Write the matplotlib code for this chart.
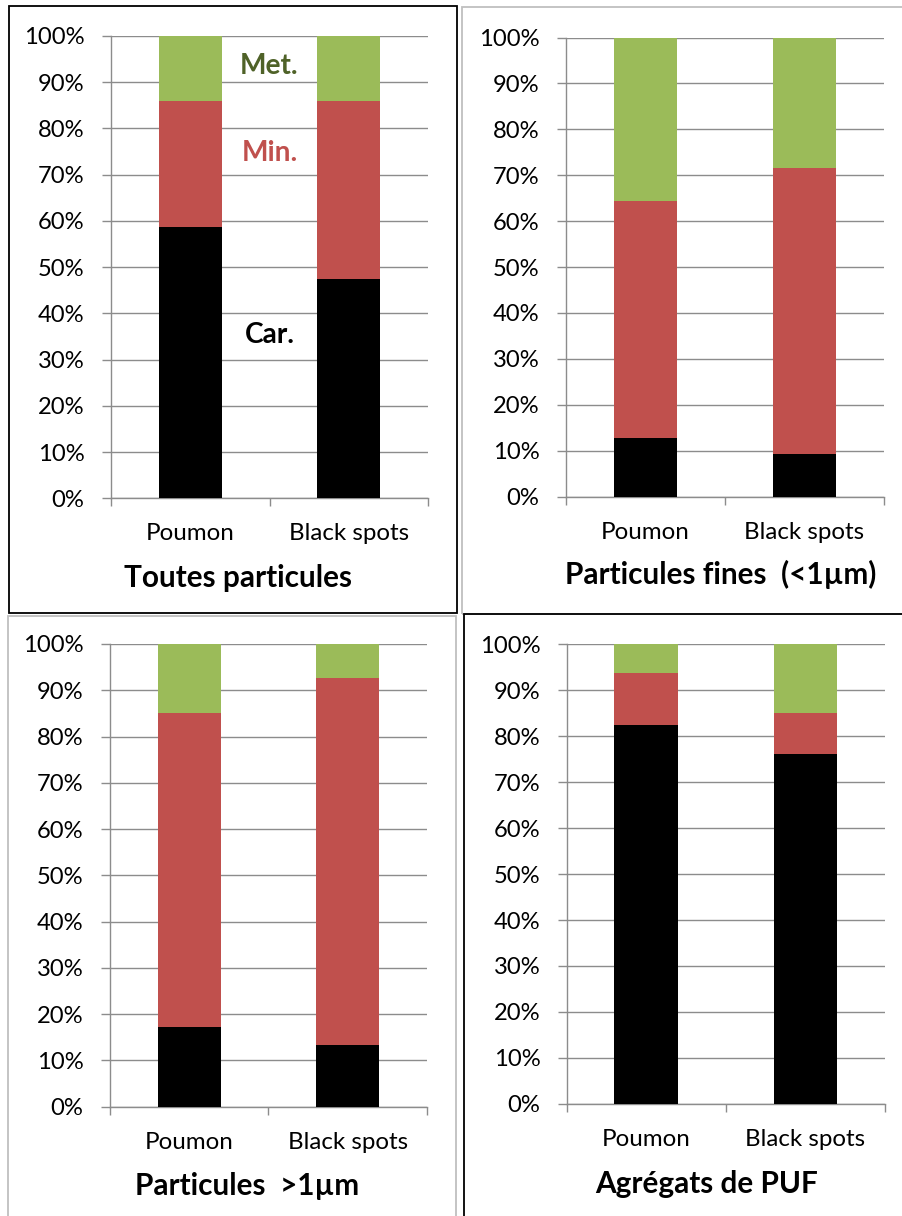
import matplotlib
matplotlib.use("Agg")
import matplotlib.pyplot as plt
from matplotlib.patches import Rectangle
import numpy as np

plt.rcParams['font.family'] = ['Lato', 'DejaVu Sans']

categories = ['Poumon', 'Black spots']
titles = ['Toutes particules', 'Particules fines  (<1µm)',
          'Particules  >1µm', 'Agrégats de PUF']

car_toutes = [58.6, 47.4]
min_toutes = [27.3, 38.5]
met_toutes = [14.1, 14.1]

car_fines = [12.7, 9.2]
min_fines = [51.7, 62.3]
met_fines = [35.6, 28.5]

car_gros = [17.2, 13.3]
min_gros = [67.9, 79.4]
met_gros = [14.9, 7.3]

car_puf = [82.5, 76.1]
min_puf = [11.3, 9.0]
met_puf = [6.2, 14.9]

yticks = list(range(0, 101, 10))
ytick_labels = [f"{v}%" for v in yticks]

C_CAR = '#000000'
C_MIN = '#C0504D'
C_MET = '#9BBB59'
GRID = '#8C8C8C'

W, H = 903, 1216
fig = plt.figure(figsize=(W / 100, H / 100), dpi=100)

def px_axes(l, r, t, b):
    return [l / W, 1 - b / H, (r - l) / W, (b - t) / H]

axes_px = [
    (111, 428, 36, 498.3),
    (566, 884, 37.6, 496.5),
    (110, 427, 644, 1106.6),
    (566.7, 885, 644.4, 1103.8),
]
data = [
    (car_toutes, min_toutes, met_toutes),
    (car_fines, min_fines, met_fines),
    (car_gros, min_gros, met_gros),
    (car_puf, min_puf, met_puf),
]
title_pos = [(238, 578), (721, 574), (247, 1186), (707, 1184)]

# panel borders
borders = [
    (9, 457.5, 6.2, 612.7, 'black'),
    (461.7, 910, 7.3, 613.5, '#BFBFBF'),
    (8, 455.7, 615.5, 1230, '#BFBFBF'),
    (464.3, 910, 614.3, 1230, 'black'),
]
for l, r, t, b, c in borders:
    fig.add_artist(Rectangle((l / W, 1 - b / H), (r - l) / W, (b - t) / H,
                             transform=fig.transFigure, fill=False,
                             edgecolor=c, linewidth=1.3))

for (l, r, t, b), (car, mn, met), title, (tx, ty) in zip(axes_px, data, titles, title_pos):
    ax = fig.add_axes(px_axes(l, r, t, b))
    x = np.arange(len(categories))
    car = np.array(car)
    mn = np.array(mn)
    met = np.array(met)
    ax.bar(x, car, width=0.4, color=C_CAR, zorder=3)
    ax.bar(x, mn, width=0.4, bottom=car, color=C_MIN, zorder=3)
    ax.bar(x, met, width=0.4, bottom=car + mn, color=C_MET, zorder=3)
    ax.set_xlim(-0.5, 1.5)
    ax.set_ylim(0, 100)
    ax.set_yticks(yticks)
    ax.set_yticklabels(ytick_labels)
    ax.yaxis.grid(True, color=GRID, linewidth=1.0, zorder=0)
    ax.set_axisbelow(True)
    ax.set_xticks([-0.5, 0.5, 1.5])
    ax.set_xticklabels([])
    ax.set_xticks(x, minor=True)
    ax.set_xticklabels(categories, minor=True)
    ax.tick_params(axis='x', which='minor', length=0, pad=18, labelsize=17.4)
    ax.tick_params(axis='x', which='major', length=6, width=1.0, color=GRID, direction='out')
    ax.tick_params(axis='y', length=6.5, width=1.0, color=GRID, pad=12.5, labelsize=17.1)
    for s in ['top', 'right']:
        ax.spines[s].set_visible(False)
    for s in ['left', 'bottom']:
        ax.spines[s].set_color(GRID)
        ax.spines[s].set_linewidth(1.0)
    fig.text(tx / W, 1 - ty / H, title, ha='center', va='center',
             fontsize=21.4, fontweight='bold')
    if title == 'Toutes particules':
        ax.text(0.5, 93.5, 'Met.', ha='center', va='center', color='#4F6228',
                fontsize=20.2, fontweight='bold', zorder=4)
        ax.text(0.5, 74.7, 'Min.', ha='center', va='center', color=C_MIN,
                fontsize=20.2, fontweight='bold', zorder=4)
        ax.text(0.5, 35.3, 'Car.', ha='center', va='center', color='black',
                fontsize=20.2, fontweight='bold', zorder=4)

fig.savefig('out.png', dpi=100)
